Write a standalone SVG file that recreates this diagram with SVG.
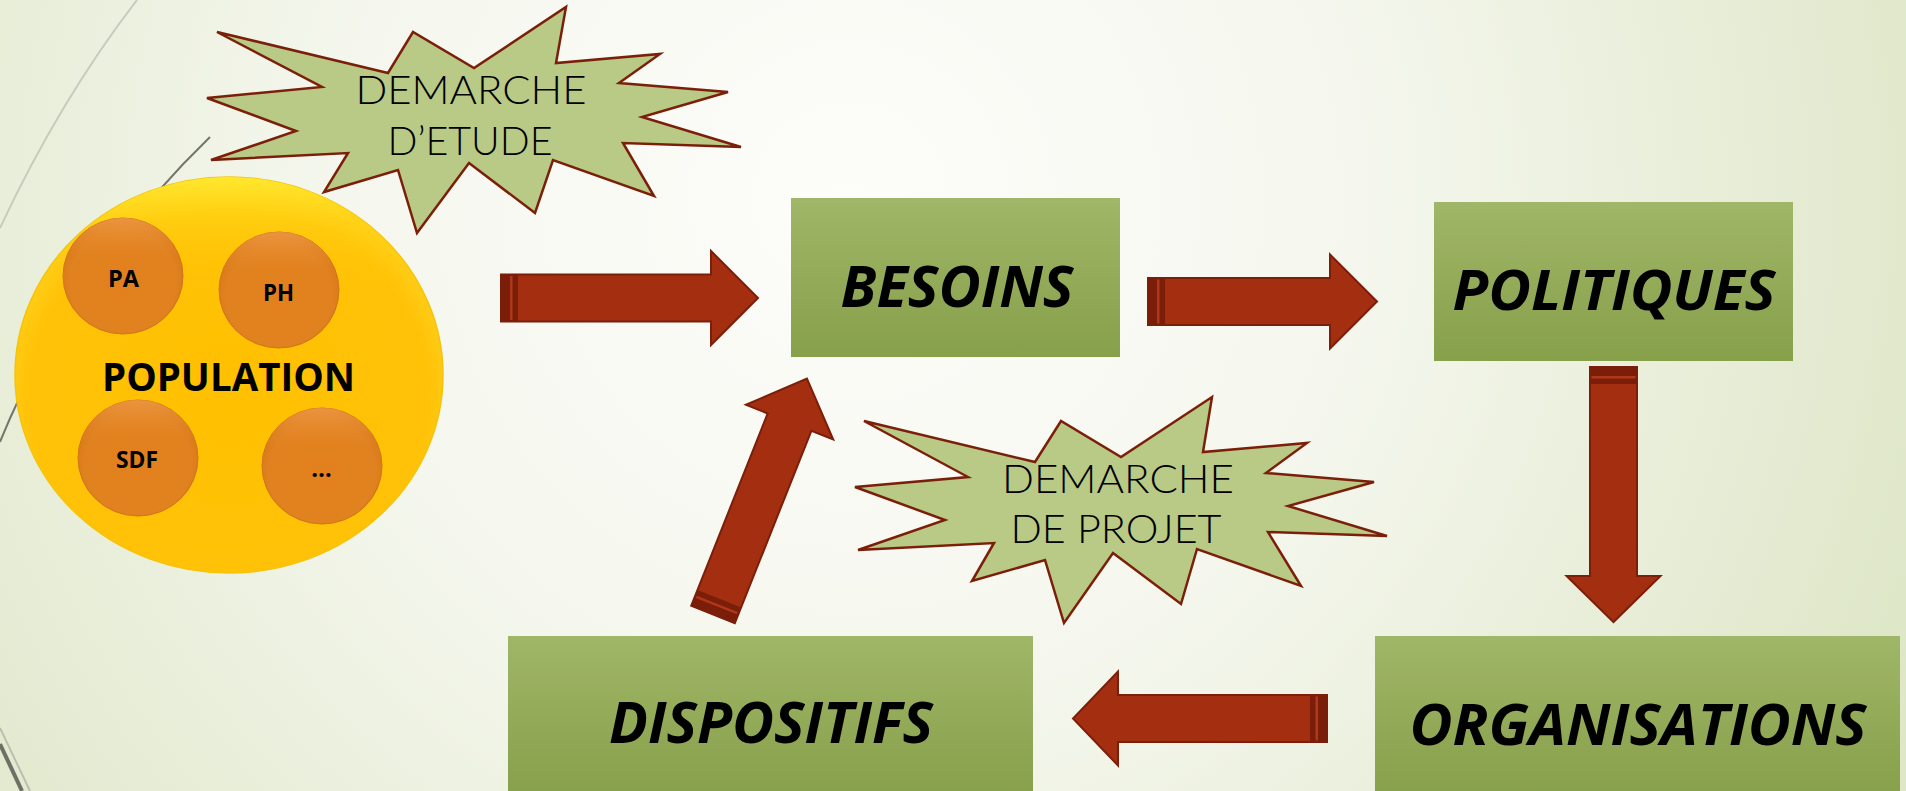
<svg xmlns="http://www.w3.org/2000/svg" width="1906" height="791" viewBox="0 0 1906 791">
<defs>
  <radialGradient id="bg" cx="850" cy="200" r="1120" gradientUnits="userSpaceOnUse">
    <stop offset="0" stop-color="#FDFDFA"/>
    <stop offset="0.45" stop-color="#F5F7EE"/>
    <stop offset="1" stop-color="#DFE7C9"/>
  </radialGradient>
  <linearGradient id="boxg" x1="0" y1="0" x2="0" y2="1">
    <stop offset="0" stop-color="#A0B668"/>
    <stop offset="1" stop-color="#87A04A"/>
  </linearGradient>
  <radialGradient id="popg" cx="0.5" cy="0.55" r="0.55">
    <stop offset="0" stop-color="#FFC000"/>
    <stop offset="0.85" stop-color="#FFC208"/>
    <stop offset="1" stop-color="#FFD21E"/>
  </radialGradient>
  <linearGradient id="poptop" x1="0" y1="0" x2="0" y2="1">
    <stop offset="0" stop-color="#FFEA30" stop-opacity="0.9"/>
    <stop offset="0.12" stop-color="#FFD515" stop-opacity="0.5"/>
    <stop offset="0.3" stop-color="#FFC000" stop-opacity="0"/>
  </linearGradient>
  <radialGradient id="ballg" cx="0.5" cy="0.55" r="0.55">
    <stop offset="0" stop-color="#E3801E"/>
    <stop offset="0.8" stop-color="#E0821F"/>
    <stop offset="1" stop-color="#D9791C"/>
  </radialGradient>
  <linearGradient id="ballhi" x1="0" y1="0" x2="0" y2="1">
    <stop offset="0" stop-color="#F2A050" stop-opacity="0.7"/>
    <stop offset="0.35" stop-color="#E8892A" stop-opacity="0"/>
  </linearGradient>
</defs>
<style>
  .box { fill: url(#boxg); }
  .lbl { font-family: "Open Sans", "Liberation Sans", sans-serif; font-weight: bold; font-style: italic; fill: #000; text-anchor: middle; }
  .star { fill: #B8CA86; stroke: #7B1F0A; stroke-width: 2.5; stroke-linejoin: miter; }
  .stxt { font-family: "Lato", "Open Sans", "Liberation Sans", sans-serif; font-weight: 300; font-size: 40px; fill: #000; text-anchor: middle; }
  .arrow { fill: #A32E10; stroke: #7B1F0A; stroke-width: 2; stroke-linejoin: miter; }
  .band { fill: #7A1E0A; }
  .bandl { fill: #B0381A; }
  .ball { fill: url(#ballg); stroke: #D27419; stroke-width: 1; }
  .balltxt { font-family: "Open Sans", "Liberation Sans", sans-serif; font-weight: bold; font-size: 24px; fill: #000; text-anchor: middle; }
</style>
<rect width="1906" height="791" fill="url(#bg)"/>
<g id="decor" fill="none">
  <path d="M137,0 Q60,100 0,228" stroke="#C9CABD" stroke-width="2"/>
  <path d="M210,137 C150,195 55,305 0,442" stroke="#74746A" stroke-width="2"/>
  <path d="M0,744 L22,791" stroke="#6F6F66" stroke-width="4"/>
  <path d="M0,728 L30,791" stroke="#BDBEB2" stroke-width="2"/>
</g>

<g id="population">
  <ellipse cx="229" cy="375" rx="214" ry="198" fill="url(#popg)" stroke="#F5C40A" stroke-width="1.5"/>
  <ellipse cx="229" cy="375" rx="214" ry="198" fill="url(#poptop)"/>
  <g id="pa">
    <ellipse cx="123" cy="276" rx="60" ry="58" class="ball"/>
    <ellipse cx="123" cy="276" rx="60" ry="58" fill="url(#ballhi)"/>
    <text x="123.5" y="287" class="balltxt" textLength="31" lengthAdjust="spacingAndGlyphs">PA</text>
  </g>
  <g id="ph">
    <ellipse cx="279" cy="290" rx="60" ry="58" class="ball"/>
    <ellipse cx="279" cy="290" rx="60" ry="58" fill="url(#ballhi)"/>
    <text x="278.5" y="301" class="balltxt" textLength="31" lengthAdjust="spacingAndGlyphs">PH</text>
  </g>
  <g id="sdf">
    <ellipse cx="138" cy="458" rx="60" ry="58" class="ball"/>
    <ellipse cx="138" cy="458" rx="60" ry="58" fill="url(#ballhi)"/>
    <text x="137" y="468" class="balltxt" textLength="42" lengthAdjust="spacingAndGlyphs">SDF</text>
  </g>
  <g id="etc">
    <ellipse cx="322" cy="466" rx="60" ry="58" class="ball"/>
    <ellipse cx="322" cy="466" rx="60" ry="58" fill="url(#ballhi)"/>
    <text x="321.5" y="477" class="balltxt">…</text>
  </g>
  <text x="228.5" y="391" font-family="Open Sans, Liberation Sans, sans-serif" font-weight="bold" font-size="40" text-anchor="middle" textLength="253" lengthAdjust="spacingAndGlyphs">POPULATION</text>
</g>

<g id="demarche-etude">
  <polygon class="star" points="217,32 388,73 413,32 474,68 566,7 556,63 660,54 619,83 728,92 642,117 741,147 623,143 654,196 553,160 535,213 469,163 417,233 398,170 324,192 348,153 211,160 296,131 207,98 322,87"/>
  <text x="471" y="104" class="stxt" textLength="231" lengthAdjust="spacingAndGlyphs">DEMARCHE</text>
  <text x="470" y="155" class="stxt" textLength="165" lengthAdjust="spacingAndGlyphs">D’ETUDE</text>
</g>

<g id="besoins">
  <rect x="791" y="198" width="329" height="159" class="box"/>
  <text x="957" y="307" class="lbl" font-size="58" textLength="233" lengthAdjust="spacingAndGlyphs">BESOINS</text>
</g>
<g id="politiques">
  <rect x="1434" y="202" width="359" height="159" class="box"/>
  <text x="1614" y="310" class="lbl" font-size="56" textLength="323" lengthAdjust="spacingAndGlyphs">POLITIQUES</text>
</g>
<g id="organisations">
  <rect x="1375" y="636" width="525" height="160" class="box"/>
  <text x="1638" y="745" class="lbl" font-size="58" textLength="457" lengthAdjust="spacingAndGlyphs">ORGANISATIONS</text>
</g>
<g id="dispositifs">
  <rect x="508" y="636" width="525" height="160" class="box"/>
  <text x="771" y="743" class="lbl" font-size="57" textLength="324" lengthAdjust="spacingAndGlyphs">DISPOSITIFS</text>
</g>

<g id="demarche-projet">
  <polygon class="star" points="864,421 1035,462 1061,421 1121,457 1212,397 1203,452 1307,443 1266,473 1374,482 1288,506 1387,536 1268,532 1301,586 1197,549 1181,604 1113,553 1064,623 1045,560 972,581 994,543 858,550 945,520 855,487 968,477"/>
  <text x="1118" y="493" class="stxt" textLength="232" lengthAdjust="spacingAndGlyphs">DEMARCHE</text>
  <text x="1116" y="543" class="stxt" textLength="211" lengthAdjust="spacingAndGlyphs">DE PROJET</text>
</g>

<g id="connectors">
  <g transform="translate(501,298)">
    <path class="arrow" d="M0,-23.5 H210 V-47 L257,0 L210,47 V23.5 H0 Z"/>
    <rect class="band" x="0" y="-23.5" width="17" height="47"/>
    <rect class="bandl" x="9" y="-22" width="2.5" height="44"/>
  </g>
  <g transform="translate(1148,301.5)">
    <path class="arrow" d="M0,-23.5 H182 V-47 L229,0 L182,47 V23.5 H0 Z"/>
    <rect class="band" x="0" y="-23.5" width="17" height="47"/>
    <rect class="bandl" x="9" y="-22" width="2.5" height="44"/>
  </g>
  <g transform="translate(1613.5,367) rotate(90)">
    <path class="arrow" d="M0,-23.5 H209 V-47 L255,0 L209,47 V23.5 H0 Z"/>
    <rect class="band" x="0" y="-23.5" width="17" height="47"/>
    <rect class="bandl" x="9" y="-22" width="2.5" height="44"/>
  </g>
  <g transform="translate(1327,718.5) rotate(180)">
    <path class="arrow" d="M0,-23.5 H209 V-47 L254,0 L209,47 V23.5 H0 Z"/>
    <rect class="band" x="0" y="-23.5" width="17" height="47"/>
    <rect class="bandl" x="9" y="-22" width="2.5" height="44"/>
  </g>
  <g transform="translate(713,614.5) rotate(-68.3)">
    <path class="arrow" d="M0,-23.5 H207 V-47 L254,0 L207,47 V23.5 H0 Z"/>
    <rect class="band" x="0" y="-23.5" width="17" height="47"/>
    <rect class="bandl" x="9" y="-22" width="2.5" height="44"/>
  </g>
</g>
</svg>
